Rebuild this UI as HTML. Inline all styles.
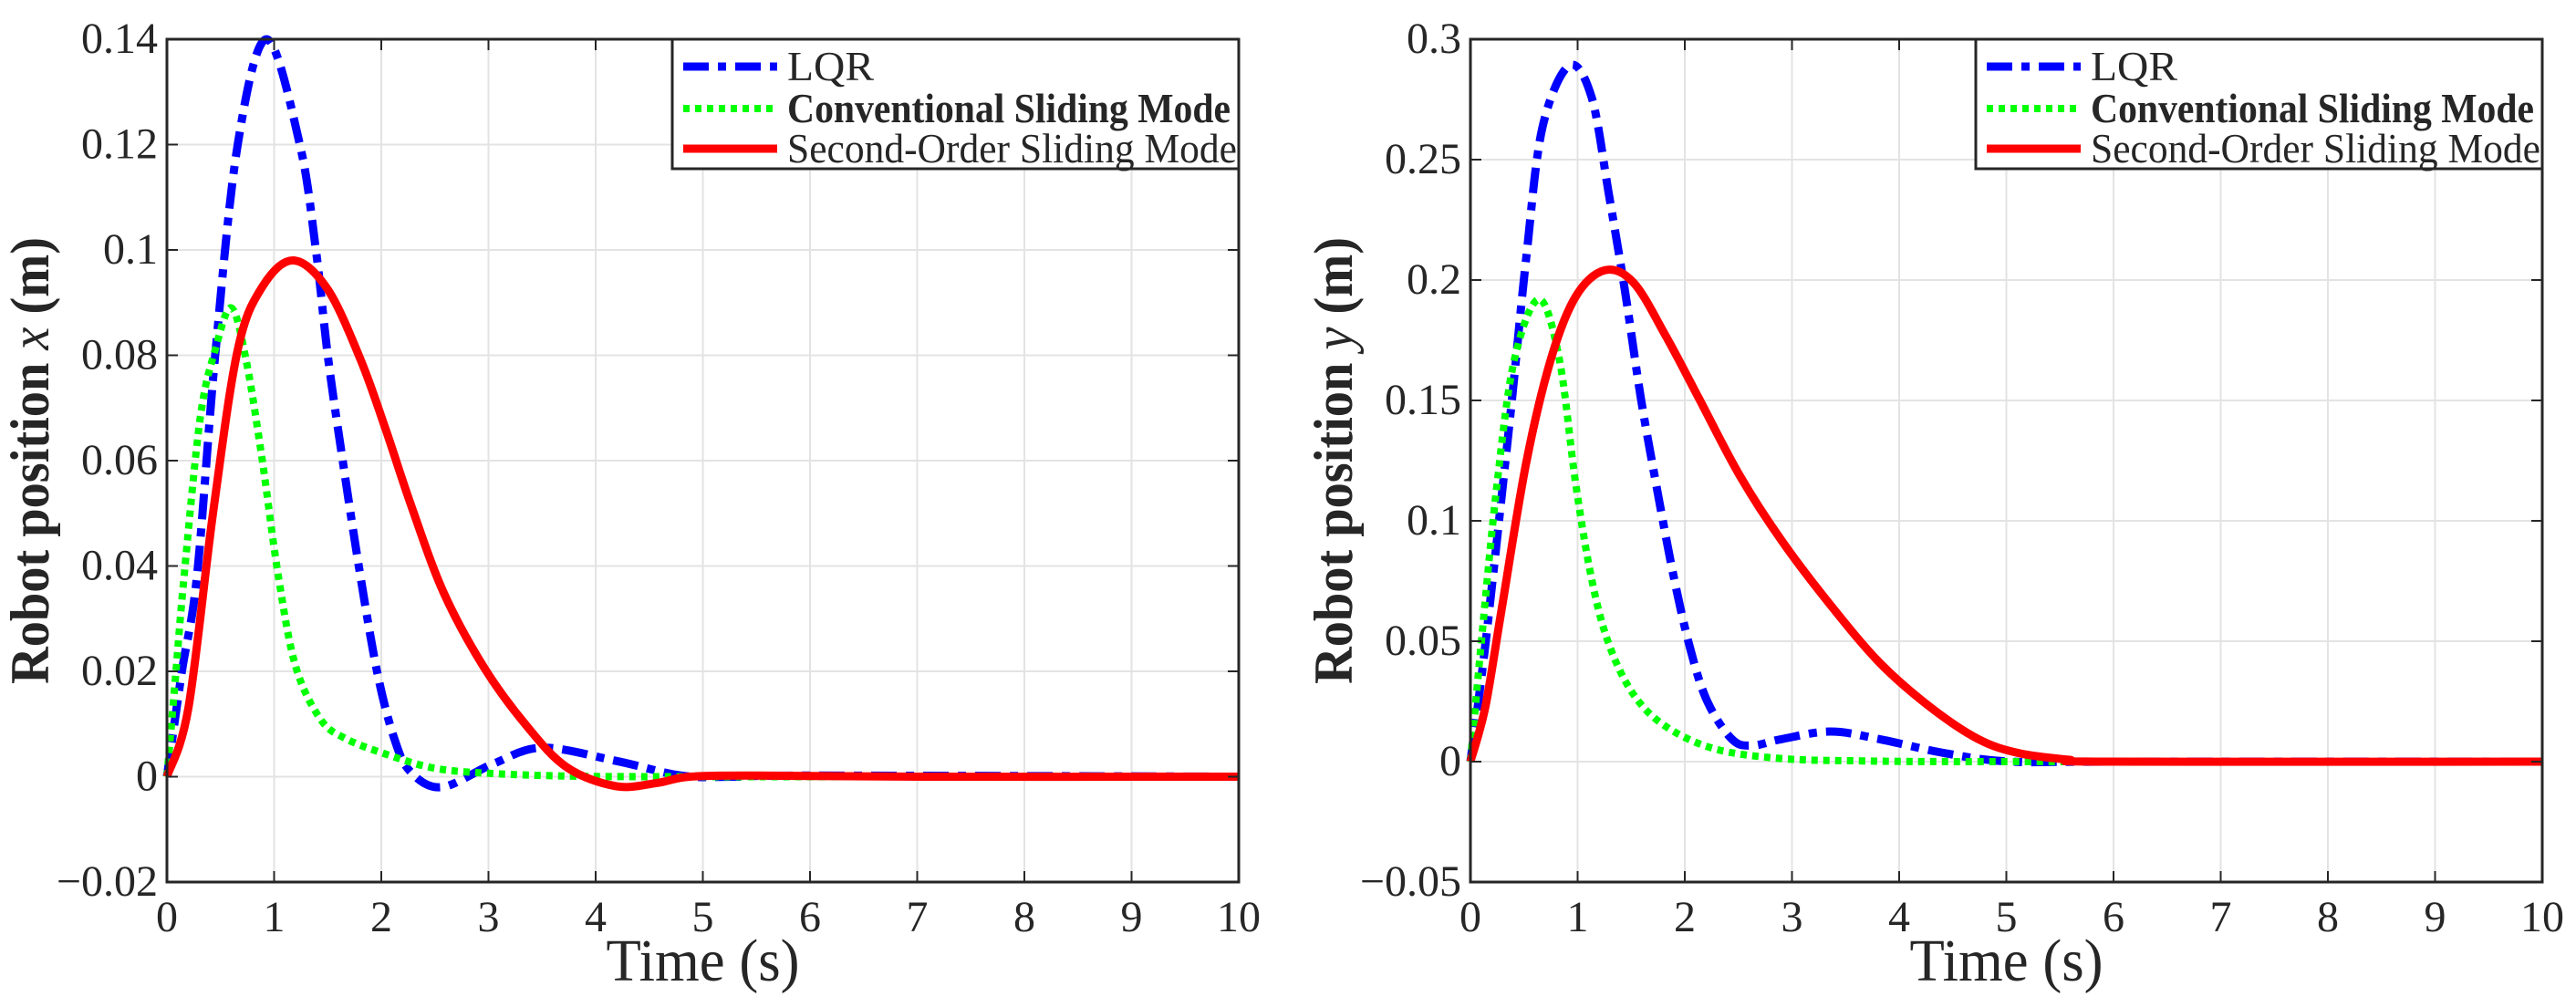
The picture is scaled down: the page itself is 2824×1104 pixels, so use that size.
<!DOCTYPE html>
<html><head><meta charset="utf-8"><style>
html,body{margin:0;padding:0;background:#fff;}
svg{display:block;}
text{font-family:"Liberation Serif",serif;fill:#262626;}
</style></head><body>
<svg id="fig" width="2824" height="1104" viewBox="0 0 2824 1104" xmlns="http://www.w3.org/2000/svg"></svg>
<script>
// ---- data ----
const xTicks = [0,1,2,3,4,5,6,7,8,9,10];
const leftYTicks = [-0.02,0,0.02,0.04,0.06,0.08,0.1,0.12,0.14];
const leftYTickLabels = ["\u22120.02","0","0.02","0.04","0.06","0.08","0.1","0.12","0.14"];
const rightYTicks = [-0.05,0,0.05,0.1,0.15,0.2,0.25,0.3];
const rightYTickLabels = ["\u22120.05","0","0.05","0.1","0.15","0.2","0.25","0.3"];
const seriesNames = ["LQR","Conventional Sliding Mode","Second-Order Sliding Mode"];

const xLqrT = [0,0.14,0.28,0.45,0.66,0.93,1.24,1.39,1.5,1.64,1.79,1.96,2.12,2.27,2.56,3.04,3.5,4.19,4.8,5.3,6,10];
const xLqrV = [0,0.02,0.038,0.08,0.12,0.14,0.12,0.1,0.08,0.06,0.04,0.02,0.0073,0.001,-0.002,0.0024,0.0055,0.003,0.0002,0,0.0002,0];
const xConvT = [0,0.08,0.16,0.31,0.45,0.6,0.74,0.89,1.04,1.2,1.43,1.66,2.04,2.5,3.04,3.8,5,10];
const xConvV = [0,0.019,0.038,0.068,0.081,0.089,0.079,0.06,0.038,0.021,0.011,0.0073,0.0043,0.0016,0.0006,0.0001,0,0];
const xSmcT = [0,0.2,0.43,0.66,0.89,1.18,1.5,1.81,2.04,2.27,2.58,2.96,3.35,3.73,4.19,4.57,4.88,5.5,7,10];
const xSmcV = [0,0.013,0.05,0.081,0.093,0.098,0.0925,0.079,0.066,0.052,0.035,0.0207,0.0098,0.0018,-0.0018,-0.0012,0,0.0002,0,0];

const yLqrT = [0,0.14,0.37,0.52,0.67,0.92,1.13,1.29,1.44,1.59,1.75,1.9,2.05,2.21,2.44,2.63,2.9,3.36,3.82,4.43,5.04,6,10];
const yLqrV = [0,0.049,0.143,0.209,0.263,0.289,0.276,0.236,0.196,0.151,0.111,0.076,0.047,0.025,0.0093,0.0067,0.0093,0.0125,0.0093,0.0035,0,0,0];
const yConvT = [0,0.1,0.25,0.41,0.64,0.83,0.98,1.13,1.29,1.52,1.82,2.28,2.9,3.66,5,10];
const yConvV = [0,0.049,0.116,0.167,0.192,0.167,0.116,0.076,0.049,0.028,0.0147,0.0053,0.0013,0.0003,0,0];
const ySmcT = [0,0.14,0.29,0.52,0.75,0.98,1.25,1.52,1.82,2.13,2.51,2.9,3.36,3.82,4.28,4.74,5.12,5.58,5.96,10];
const ySmcV = [0,0.023,0.063,0.124,0.167,0.193,0.204,0.199,0.177,0.151,0.119,0.092,0.065,0.041,0.023,0.0093,0.0035,0.0008,0,0];

const NS = "http://www.w3.org/2000/svg";
const svg = document.getElementById('fig');
function mk(tag, attrs, parent){ const e=document.createElementNS(NS,tag); for(const k in attrs) e.setAttribute(k,attrs[k]); (parent||svg).appendChild(e); return e; }

function pathFrom(ts, vs, sx, sy){
  const p = ts.map((t,i)=>[sx(t), sy(vs[i])]);
  let d = `M${p[0][0].toFixed(1)},${p[0][1].toFixed(1)}`;
  for(let i=0;i<p.length-1;i++){
    const p0=p[Math.max(0,i-1)], p1=p[i], p2=p[i+1], p3=p[Math.min(p.length-1,i+2)];
    const c1=[p1[0]+(p2[0]-p0[0])/6, p1[1]+(p2[1]-p0[1])/6];
    const c2=[p2[0]-(p3[0]-p1[0])/6, p2[1]-(p3[1]-p1[1])/6];
    d += ` C${c1[0].toFixed(1)},${c1[1].toFixed(1)} ${c2[0].toFixed(1)},${c2[1].toFixed(1)} ${p2[0].toFixed(1)},${p2[1].toFixed(1)}`;
  }
  return d;
}

const styles = [
  {stroke:'#0000ff', w:9, dash:'28,10,9,10'},
  {stroke:'#00ff00', w:8, dash:'7,6'},
  {stroke:'#ff0000', w:9, dash:''}
];

function panel(id, L, R, T, B, ymin, ymax, yt, ytl, ylabelVar, series){
  const g = mk('g', {});
  
  
  const sx = t => L + (t-0)/(10-0)*(R-L);
  const sy = v => B - (v-ymin)/(ymax-ymin)*(B-T);
  xTicks.forEach(t=>{ const l=mk('line',{x1:sx(t),x2:sx(t),y1:T,y2:B,stroke:'#e3e3e3','stroke-width':2},g);
      });
  yt.forEach(v=>{ const l=mk('line',{x1:L,x2:R,y1:sy(v),y2:sy(v),stroke:'#e3e3e3','stroke-width':2},g);
      });
  series.forEach((s,i)=>{
    const p = mk('path',{d:pathFrom(s[0],s[1],sx,sy),fill:'none',stroke:styles[i].stroke,'stroke-width':styles[i].w,'stroke-dasharray':styles[i].dash,'stroke-linejoin':'round'},g);
    
    
  });
  const box = mk('rect',{x:L,y:T,width:R-L,height:B-T,fill:'none',stroke:'#262626','stroke-width':3},g);
   
  xTicks.forEach(t=>{
    mk('line',{x1:sx(t),x2:sx(t),y1:B,y2:B-12,stroke:'#262626','stroke-width':2},g);
    mk('line',{x1:sx(t),x2:sx(t),y1:T,y2:T+12,stroke:'#262626','stroke-width':2},g);
    const tx = mk('text',{x:sx(t),y:1021,'font-size':48,'text-anchor':'middle'},g);
    tx.textContent = String(t);
     
  });
  yt.forEach((v,i)=>{
    mk('line',{x1:L,x2:L+12,y1:sy(v),y2:sy(v),stroke:'#262626','stroke-width':2},g);
    mk('line',{x1:R,x2:R-12,y1:sy(v),y2:sy(v),stroke:'#262626','stroke-width':2},g);
    const tx = mk('text',{x:L-10,y:sy(v)+15,'font-size':48,'text-anchor':'end'},g);
    tx.textContent = ytl[i];
     
  });
  const xt = mk('text',{x:(L+R)/2,y:1075,'font-size':66,'text-anchor':'middle',textLength:212,lengthAdjust:'spacingAndGlyphs'},g);
  xt.textContent='Time (s)';
   
  const yl = mk('text',{x:0,y:0,'font-size':60,'font-weight':'bold','text-anchor':'middle',transform:`translate(${L-130},${(T+B)/2}) rotate(-90)`,textLength:490,lengthAdjust:'spacingAndGlyphs'},g);
  yl.appendChild(document.createTextNode('Robot position '));
  const ti = mk('tspan',{'font-style':'italic','font-weight':'normal'},yl); ti.textContent=ylabelVar;
  yl.appendChild(document.createTextNode(' (m)'));
   
  const lg = mk('g',{},g);
   
  const lx = L + 554;
  mk('rect',{x:lx,y:T,width:R-lx,height:142,fill:'#fff',stroke:'#262626','stroke-width':3},lg);
  const rows=[73,119,163];
  seriesNames.forEach((n,i)=>{
    const e = mk('g',{},lg);
     
    mk('line',{x1:lx+12,x2:lx+115,y1:rows[i],y2:rows[i],stroke:styles[i].stroke,'stroke-width':styles[i].w,'stroke-dasharray':styles[i].dash},e);
    const t = mk('text',{x:lx+126,y:rows[i]+15,'font-size':46,'font-weight':i==1?'bold':'normal',fill:'#000',textLength:[95,486,493][i],lengthAdjust:'spacingAndGlyphs'},e);
    t.textContent=n;
  });
}

panel('left',183,1358,43,967,-0.02,0.14,leftYTicks,leftYTickLabels,'x',
  [[xLqrT,xLqrV],[xConvT,xConvV],[xSmcT,xSmcV]]);
panel('right',1612,2787,43,967,-0.05,0.3,rightYTicks,rightYTickLabels,'y',
  [[yLqrT,yLqrV],[yConvT,yConvV],[ySmcT,ySmcV]]);
</script>
</body></html>
